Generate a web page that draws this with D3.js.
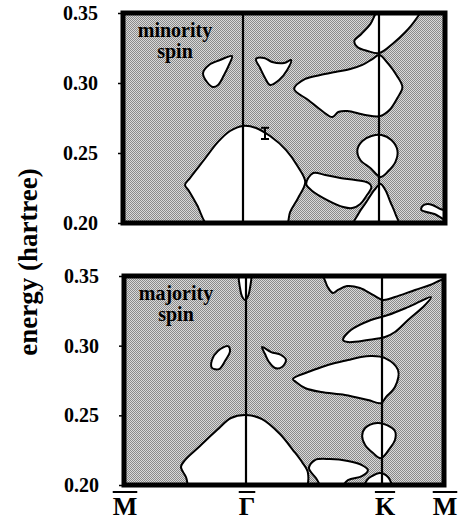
<!DOCTYPE html>
<html>
<head>
<meta charset="utf-8">
<script src="https://cdn.jsdelivr.net/npm/d3@7"></script>
<style>
  body { margin: 0; background: #fff; }
  text { font-family: "Liberation Serif", "Times New Roman", serif; font-weight: bold; fill: #000; }
</style>
</head>
<body>
<div id="chart"></div>
<script>
// k along M - Gamma - K - M, energy in hartree
const kTicks = [0, 1, 2.13, 2.68]
const kLabels = ['M', 'Γ', 'K', 'M']
const energyTicks = [0.20, 0.25, 0.30, 0.35]

// white (gap) regions, [k, energy] outlines
const minorityGaps = [
  [[0.725, 0.196], [0.617, 0.2129], [0.55, 0.2229], [0.517, 0.2271], [0.558, 0.2321], [0.675, 0.245], [0.792, 0.2579], [0.892, 0.2657], [1.0, 0.2693], [1.108, 0.2679], [1.225, 0.2621], [1.358, 0.2521], [1.458, 0.24], [1.517, 0.2293], [1.458, 0.2179], [1.392, 0.2079], [1.35, 0.196], [1.04, 0.19]],
  [[1.525, 0.2279], [1.583, 0.2357], [1.683, 0.2343], [1.808, 0.2321], [1.933, 0.2307], [2.042, 0.2286], [2.067, 0.2257], [2.025, 0.2193], [1.975, 0.2136], [1.908, 0.2107], [1.833, 0.2114], [1.7, 0.2164], [1.575, 0.2229]],
  [[1.908, 0.196], [1.958, 0.2064], [2.025, 0.215], [2.092, 0.2236], [2.142, 0.2279], [2.183, 0.2236], [2.225, 0.215], [2.267, 0.2064], [2.3, 0.196], [2.1, 0.19]],
  [[2.142, 0.2329], [2.058, 0.2393], [1.975, 0.245], [1.95, 0.2521], [1.992, 0.2586], [2.067, 0.2621], [2.15, 0.2629], [2.233, 0.2593], [2.283, 0.2521], [2.267, 0.2436], [2.208, 0.2371]],
  [[2.708, 0.2079], [2.642, 0.21], [2.575, 0.2129], [2.533, 0.2136], [2.492, 0.2121], [2.483, 0.2093], [2.525, 0.2079], [2.592, 0.2064], [2.65, 0.2036], [2.708, 0.2007], [2.75, 0.204]],
  [[1.425, 0.2957], [1.517, 0.3029], [1.642, 0.3057], [1.767, 0.3079], [1.892, 0.31], [1.992, 0.3129], [2.075, 0.3171], [2.133, 0.32], [2.208, 0.3136], [2.275, 0.3057], [2.325, 0.2971], [2.283, 0.2893], [2.217, 0.2807], [2.142, 0.2764], [2.017, 0.2771], [1.867, 0.28], [1.792, 0.2793], [1.742, 0.2757], [1.658, 0.28], [1.542, 0.2879]],
  [[2.125, 0.3521], [2.058, 0.3421], [1.983, 0.335], [1.925, 0.33], [1.95, 0.3257], [2.033, 0.3229], [2.133, 0.3214], [2.242, 0.3279], [2.35, 0.3364], [2.433, 0.345], [2.475, 0.3521], [2.3, 0.358]],
  [[0.667, 0.3071], [0.717, 0.3129], [0.808, 0.3164], [0.908, 0.3193], [0.883, 0.3129], [0.842, 0.3057], [0.792, 0.2986], [0.75, 0.2971], [0.7, 0.3007]],
  [[1.108, 0.3171], [1.175, 0.3179], [1.242, 0.315], [1.342, 0.3143], [1.4, 0.3164], [1.367, 0.3093], [1.3, 0.3021], [1.225, 0.2986], [1.183, 0.3036], [1.142, 0.3107]]
]

const majorityGaps = [
  [[0.549, 0.196], [0.508, 0.2057], [0.467, 0.2129], [0.5, 0.2179], [0.623, 0.228], [0.762, 0.2394], [0.877, 0.2481], [1.0, 0.2502], [1.133, 0.2473], [1.282, 0.2366], [1.39, 0.2251], [1.465, 0.2165], [1.515, 0.2086], [1.482, 0.196], [1.0, 0.19]],
  [[1.523, 0.2122], [1.573, 0.2179], [1.698, 0.2186], [1.847, 0.2172], [1.963, 0.2143], [2.013, 0.2107], [1.963, 0.2064], [1.847, 0.2035], [1.764, 0.196], [1.656, 0.196], [1.581, 0.205]],
  [[1.98, 0.196], [2.005, 0.2035], [2.047, 0.2064], [2.113, 0.2086], [2.165, 0.2071], [2.201, 0.2035], [2.219, 0.196], [2.1, 0.19]],
  [[2.122, 0.2193], [2.056, 0.2229], [1.99, 0.2287], [1.965, 0.2351], [1.99, 0.2409], [2.09, 0.2445], [2.174, 0.243], [2.245, 0.2387], [2.245, 0.2323], [2.201, 0.2265]],
  [[1.39, 0.2761], [1.515, 0.2811], [1.631, 0.2847], [1.739, 0.2875], [1.847, 0.2897], [1.955, 0.2919], [2.038, 0.2926], [2.157, 0.2911], [2.272, 0.2825], [2.245, 0.2703], [2.165, 0.2631], [2.122, 0.2588], [2.013, 0.261], [1.822, 0.2646], [1.623, 0.2667], [1.49, 0.2696], [1.415, 0.2739]],
  [[1.806, 0.3041], [1.872, 0.3112], [2.038, 0.3184], [2.183, 0.322], [2.361, 0.3277], [2.565, 0.3349], [2.512, 0.3292], [2.361, 0.3184], [2.245, 0.3098], [2.157, 0.3062], [2.013, 0.3041], [1.847, 0.3026]],
  [[1.648, 0.3522], [1.664, 0.345], [1.689, 0.3407], [1.723, 0.3378], [1.764, 0.34], [1.839, 0.3428], [1.947, 0.3414], [2.055, 0.3364], [2.139, 0.3328], [2.245, 0.3349], [2.423, 0.34], [2.556, 0.3435], [2.654, 0.3471], [2.716, 0.3478], [2.716, 0.3522], [2.2, 0.358]],
  [[0.721, 0.284], [0.721, 0.2897], [0.77, 0.2962], [0.852, 0.2997], [0.869, 0.2962], [0.828, 0.289], [0.779, 0.2832]],
  [[1.133, 0.299], [1.208, 0.2954], [1.291, 0.2933], [1.332, 0.2897], [1.299, 0.2847], [1.241, 0.284], [1.191, 0.2883], [1.158, 0.294]],
  [[0.943, 0.3522], [0.951, 0.3414], [0.967, 0.3356], [0.992, 0.3328], [1.017, 0.3356], [1.033, 0.3414], [1.042, 0.3522], [0.99, 0.357]]
]

// measured state (minority spin) with its error bar
const minorityPoints = [{ k: 1.183, energy: 0.264, err: 0.004 }]

const width = 458
const height = 523

const panels = [
  { gaps: minorityGaps, points: minorityPoints, label: ['minority', 'spin'], xRange: [123, 243, 379, 445], yRange: [223, 13] },
  { gaps: majorityGaps, points: [], label: ['majority', 'spin'], xRange: [124, 246, 382, 444], yRange: [485, 276] }
]

const svg = d3.select('#chart')
  .append('svg')
  .attr('width', width)
  .attr('height', height)

// halftone-like grey
const defs = svg.append('defs')
const pat = defs.append('pattern')
  .attr('id', 'grey')
  .attr('patternUnits', 'userSpaceOnUse')
  .attr('width', 2)
  .attr('height', 2)
pat.append('rect').attr('width', 2).attr('height', 2).attr('fill', '#d9d9d9')
pat.append('rect').attr('width', 1).attr('height', 1).attr('fill', '#8a8a8a')
pat.append('rect').attr('x', 1).attr('y', 1).attr('width', 1).attr('height', 1).attr('fill', '#8a8a8a')

panels.forEach(function (p, i) {
  const x = d3.scaleLinear().domain(kTicks).range(p.xRange)
  const y = d3.scaleLinear().domain([0.20, 0.35]).range(p.yRange)
  const x0 = x(kTicks[0])
  const x1 = x(kTicks[kTicks.length - 1])
  const y0 = y(0.35)
  const y1 = y(0.20)

  defs.append('clipPath').attr('id', 'clip' + i)
    .append('rect')
    .attr('x', x0).attr('y', y0)
    .attr('width', x1 - x0).attr('height', y1 - y0)

  const g = svg.append('g')

  g.append('rect')
    .attr('x', x0).attr('y', y0)
    .attr('width', x1 - x0).attr('height', y1 - y0)
    .attr('fill', 'url(#grey)')

  const line = d3.line()
    .x(function (d) { return x(d[0]) })
    .y(function (d) { return y(d[1]) })
    .curve(d3.curveCatmullRomClosed.alpha(0.5))

  g.append('g')
    .attr('clip-path', 'url(#clip' + i + ')')
    .selectAll('path')
    .data(p.gaps)
    .join('path')
    .attr('d', line)
    .attr('fill', '#fff')
    .attr('stroke', '#000')
    .attr('stroke-width', 2)
    .attr('stroke-linejoin', 'round')

  // symmetry point lines (Gamma, K)
  g.selectAll('line.sym')
    .data(kTicks.slice(1, 3))
    .join('line')
    .attr('class', 'sym')
    .attr('x1', function (d) { return x(d) })
    .attr('x2', function (d) { return x(d) })
    .attr('y1', y0)
    .attr('y2', y1)
    .attr('stroke', '#000')
    .attr('stroke-width', 2.2)

  // experimental point
  const pts = g.selectAll('g.pt').data(p.points).join('g').attr('class', 'pt')
  pts.append('line')
    .attr('x1', function (d) { return x(d.k) }).attr('x2', function (d) { return x(d.k) })
    .attr('y1', function (d) { return y(d.energy + d.err) }).attr('y2', function (d) { return y(d.energy - d.err) })
    .attr('stroke', '#000').attr('stroke-width', 2)
  ;[1, -1].forEach(function (s) {
    pts.append('line')
      .attr('x1', function (d) { return x(d.k) - 4 }).attr('x2', function (d) { return x(d.k) + 4 })
      .attr('y1', function (d) { return y(d.energy + s * d.err) }).attr('y2', function (d) { return y(d.energy + s * d.err) })
      .attr('stroke', '#000').attr('stroke-width', 2)
  })

  // frame
  g.append('rect')
    .attr('x', x0).attr('y', y0)
    .attr('width', x1 - x0).attr('height', y1 - y0)
    .attr('fill', 'none')
    .attr('stroke', '#000')
    .attr('stroke-width', 5)

  // y axis
  const ax = g.append('g')
    .attr('transform', 'translate(' + x0 + ',0)')
    .call(d3.axisLeft(y).tickValues(energyTicks).tickFormat(d3.format('.2f')).tickSize(5).tickPadding(20))
  ax.select('.domain').remove()
  ax.selectAll('line').attr('stroke', '#000').attr('stroke-width', 1.5)
  ax.selectAll('text')
    .attr('font-family', '"Liberation Serif", "Times New Roman", serif')
    .attr('font-weight', 'bold')
    .attr('font-size', 20)
    .attr('fill', '#000')

  // panel label
  g.selectAll('text.lab')
    .data(p.label)
    .join('text')
    .attr('class', 'lab')
    .attr('x', x0 + 52)
    .attr('y', function (d, j) { return y0 + 24 + j * 21 })
    .attr('text-anchor', 'middle')
    .attr('font-size', 20)
    .text(function (d) { return d })

  if (i === panels.length - 1) {
    const labs = svg.selectAll('g.klab')
      .data(kLabels)
      .join('g')
      .attr('class', 'klab')
    labs.append('text')
      .attr('x', function (d, j) { return x(kTicks[j]) + (j === 2 ? 3 : 1) })
      .attr('y', 515)
      .attr('text-anchor', 'middle')
      .attr('font-size', 26)
      .text(function (d) { return d })
    labs.each(function () {
      const t = d3.select(this).select('text')
      const w = t.node().getComputedTextLength()
      const cx = +t.attr('x')
      d3.select(this).append('line')
        .attr('x1', cx - w / 2).attr('x2', cx + w / 2)
        .attr('y1', 492).attr('y2', 492)
        .attr('stroke', '#000').attr('stroke-width', 2)
    })
  }
})

svg.append('text')
  .attr('transform', 'rotate(-90)')
  .attr('x', -262)
  .attr('y', 37)
  .attr('text-anchor', 'middle')
  .attr('font-size', 27)
  .text('energy (hartree)')
</script>
</body>
</html>
